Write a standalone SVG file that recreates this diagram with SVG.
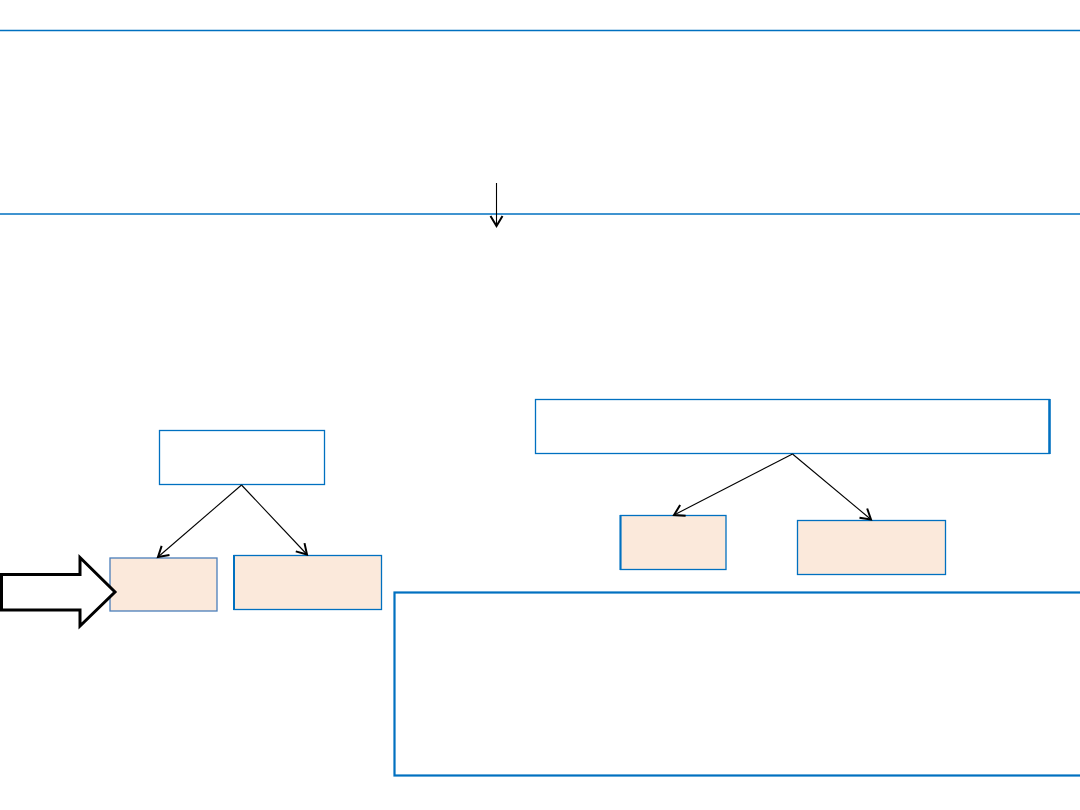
<svg xmlns="http://www.w3.org/2000/svg" width="1080" height="810" viewBox="0 0 1080 810">
<style>
.sep{stroke:#0070c0;stroke-width:1.5;fill:none}
.box{fill:#ffffff;stroke:#0070c0;stroke-width:1.3}
.leaf{fill:#fbe9db;stroke:#0070c0;stroke-width:1.3}
.conn{stroke:#000;stroke-width:1.1;fill:none;marker-end:url(#open)}
</style>
<defs>
<marker id="open" markerUnits="userSpaceOnUse" markerWidth="16" markerHeight="16" refX="11" refY="7" orient="auto" overflow="visible">
<path d="M1,1 L11,7 L1,13" fill="none" stroke="#000" stroke-width="2"/>
</marker>
</defs>
<rect width="1080" height="810" fill="#fff"/>
<line class="sep" x1="0" y1="30.5" x2="1080" y2="30.5"/>
<line class="sep" x1="0" y1="214" x2="1080" y2="214"/>
<g id="left-root"><rect class="box" x="159.5" y="430.5" width="165" height="54"/></g>
<g id="left-a"><rect class="leaf" x="110" y="558" width="107" height="53" style="stroke:#4a7ebb"/></g>
<g id="left-b"><rect class="leaf" x="234" y="555.5" width="147.5" height="54"/><line x1="234" y1="555" x2="234" y2="610" stroke="#0070c0" stroke-width="2"/></g>
<g id="right-root"><rect class="box" x="535.5" y="399.5" width="514" height="54"/><line x1="1049.5" y1="399" x2="1049.5" y2="454" stroke="#0070c0" stroke-width="2.5"/></g>
<g id="right-a"><rect class="leaf" x="620.5" y="515.5" width="105.5" height="54"/><line x1="620.5" y1="515" x2="620.5" y2="570" stroke="#0070c0" stroke-width="2"/></g>
<g id="right-b"><rect class="leaf" x="797.5" y="520.5" width="148" height="54"/></g>
<g id="bottom-box"><rect x="394.5" y="592.5" width="700" height="183" fill="#fff" stroke="#0070c0" stroke-width="2.2"/></g>
<g id="block-arrow"><polygon points="1.5,574.5 80,574.5 80,557.5 115,592 80,626 80,610 1.5,610" fill="#fff" stroke="#000" stroke-width="3" stroke-linejoin="miter"/></g>
<g id="connectors">
<line class="conn" x1="496.5" y1="183" x2="496.5" y2="226"/>
<line class="conn" x1="241.5" y1="485" x2="158" y2="557"/>
<line class="conn" x1="241.5" y1="485" x2="307" y2="554.5"/>
<line class="conn" x1="792.5" y1="454" x2="674" y2="515"/>
<line class="conn" x1="792.5" y1="454" x2="871" y2="519.5"/>
</g>
</svg>
